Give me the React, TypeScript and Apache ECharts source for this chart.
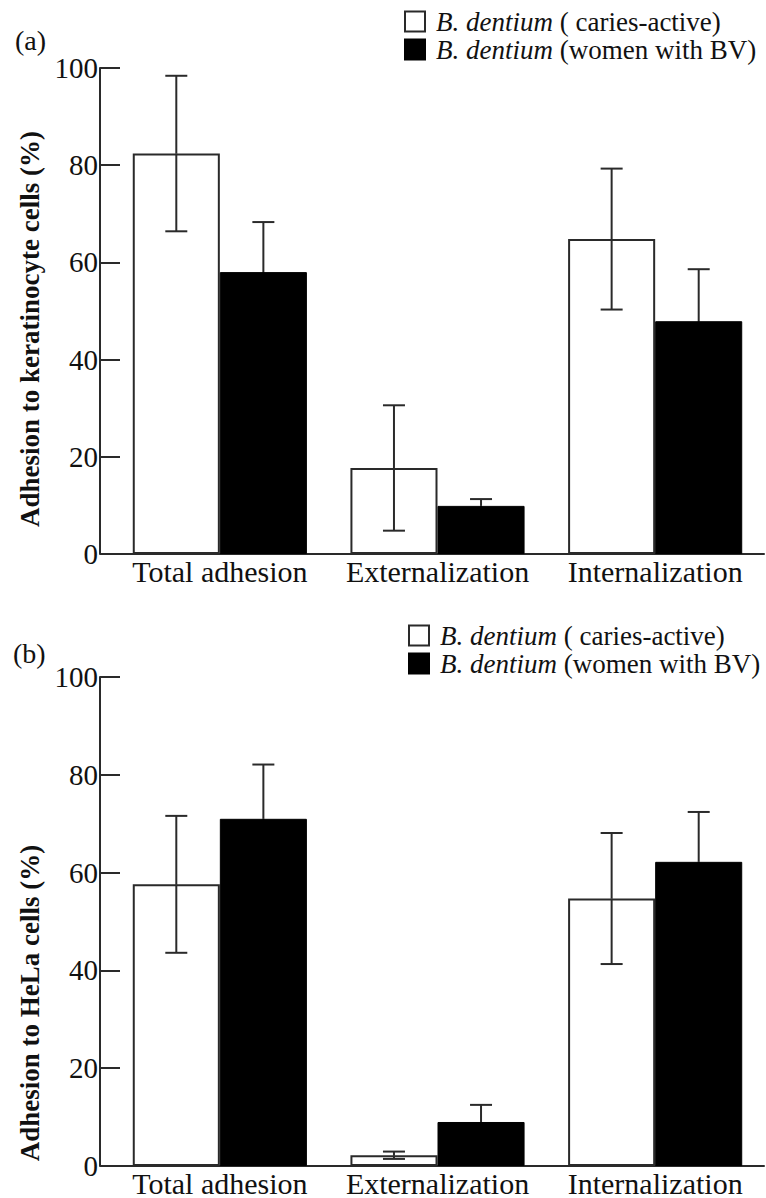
import React, { useEffect, useRef } from "react";
import * as echarts from "echarts";

const categories = ["Total adhesion", "Externalization", "Internalization"];
const seriesNames = ["B. dentium ( caries-active)", "B. dentium (women with BV)"];

// Panel (a): keratinocyte cells
const keratCaries = [82.4, 17.7, 64.8];
const keratCariesErr = [16.0, 12.9, 14.5];
const keratBV = [58.0, 9.9, 47.9];
const keratBVErr = [10.3, 1.4, 10.7];

// Panel (b): HeLa cells
const helaCaries = [57.6, 2.2, 54.7];
const helaCariesErr = [14.0, 0.75, 13.4];
const helaBV = [71.0, 9.0, 62.2];
const helaBVErr = [11.1, 3.5, 10.2];

const yMin = 0;
const yMax = 100;
const yInterval = 20;

const panelLabels = ["(a)", "(b)"];
const yTitles = ["Adhesion to keratinocyte cells (%)", "Adhesion to HeLa cells (%)"];

const FONT = "Liberation Serif";
const INK = "#2a2a2a";

export default function App() {
  const ref = useRef<HTMLDivElement>(null);

  useEffect(() => {
    if (!ref.current) return;
    const chart = echarts.init(ref.current, null, { renderer: "svg" });

    const grids = [
      { left: 111, top: 68, width: 653, height: 486 },
      { left: 111, top: 677, width: 653, height: 489 },
    ];

    const xAxes = grids.map((_, i) => ({
      type: "category",
      gridIndex: i,
      data: categories,
      axisLine: { show: true, lineStyle: { color: INK, width: 2 } },
      axisTick: { show: false },
      axisLabel: { interval: 0, fontFamily: FONT, fontSize: 30, color: "#111", margin: 2 },
    }));

    const yAxes = grids.map((_, i) => ({
      type: "value",
      gridIndex: i,
      min: yMin,
      max: yMax,
      interval: yInterval,
      offset: 11,
      splitLine: { show: false },
      axisLine: { show: true, onZero: false, lineStyle: { color: INK, width: 2 } },
      axisTick: { show: true, inside: true, length: 20, lineStyle: { color: INK, width: 2 } },
      axisLabel: { fontFamily: FONT, fontSize: 29, color: "#111", margin: 2, padding: [6, 0, 0, 0] },
    }));

    const panels = [
      { caries: keratCaries, cariesErr: keratCariesErr, bv: keratBV, bvErr: keratBVErr },
      { caries: helaCaries, cariesErr: helaCariesErr, bv: helaBV, bvErr: helaBVErr },
    ];

    const makeErr = (vals: number[], errs: number[], side: number, idx: number, lowColor: string) => ({
      type: "custom",
      name: "err" + idx + "_" + side,
      xAxisIndex: idx,
      yAxisIndex: idx,
      z: 5,
      data: vals.map((v, k) => [k, v, errs[k]]),
      encode: { x: 0, y: 1 },
      renderItem: (params: any, api: any) => {
        const cat = api.value(0);
        const v = api.value(1);
        const e = api.value(2);
        const band = api.size([1, 0])[0];
        const off = side * band * 0.2;
        const top = api.coord([cat, v + e]);
        const mid = api.coord([cat, v]);
        const bot = api.coord([cat, v - e]);
        const x = top[0] + off;
        const cap = 11;
        const st = { stroke: INK, lineWidth: 2 };
        const stLow = { stroke: lowColor, lineWidth: 2 };
        return {
          type: "group",
          children: [
            { type: "line", shape: { x1: x, y1: top[1], x2: x, y2: mid[1] }, style: st },
            { type: "line", shape: { x1: x, y1: mid[1], x2: x, y2: bot[1] }, style: stLow },
            { type: "line", shape: { x1: x - cap, y1: top[1], x2: x + cap, y2: top[1] }, style: st },
            { type: "line", shape: { x1: x - cap, y1: bot[1], x2: x + cap, y2: bot[1] }, style: stLow },
          ],
        };
      },
    });

    const series: any[] = [];
    panels.forEach((p, i) => {
      series.push({
        type: "bar",
        name: seriesNames[0],
        xAxisIndex: i,
        yAxisIndex: i,
        data: p.caries,
        barGap: "0%",
        barCategoryGap: "20%",
        itemStyle: { color: "#ffffff", borderColor: INK, borderWidth: 2 },
      });
      series.push({
        type: "bar",
        name: seriesNames[1],
        xAxisIndex: i,
        yAxisIndex: i,
        data: p.bv,
        barGap: "0%",
        barCategoryGap: "20%",
        itemStyle: { color: "#000000", borderColor: "#000000", borderWidth: 1 },
      });
      series.push(makeErr(p.caries, p.cariesErr, -1, i, INK));
      series.push(makeErr(p.bv, p.bvErr, 1, i, "#000000"));
    });

    const legendFormatter = (name: string) => {
      const rest = name.replace("B. dentium", "");
      return "{i|B. dentium}" + rest;
    };
    const legendText = {
      fontFamily: FONT,
      fontSize: 27,
      color: "#111",
      padding: [0, 0, 0, 6],
      rich: { i: { fontFamily: FONT, fontSize: 27, fontStyle: "italic", color: "#111" } },
    };
    const legends = [
      { left: 399, top: 3 },
      { left: 403, top: 617 },
    ].map((pos) => ({
      ...pos,
      orient: "vertical",
      data: seriesNames,
      icon: "rect",
      itemWidth: 20,
      itemHeight: 20,
      itemGap: 1,
      selectedMode: false,
      formatter: legendFormatter,
      textStyle: legendText,
    }));

    const graphic: any[] = [
      { type: "line", shape: { x1: 100, y1: 554, x2: 112, y2: 554 }, style: { stroke: INK, lineWidth: 2 } },
      { type: "line", shape: { x1: 100, y1: 1166, x2: 112, y2: 1166 }, style: { stroke: INK, lineWidth: 2 } },
      { type: "text", x: 15, y: 40, style: { text: panelLabels[0], fontFamily: FONT, fontSize: 28, fill: "#111", textVerticalAlign: "middle" } },
      { type: "text", x: 13, y: 653, style: { text: panelLabels[1], fontFamily: FONT, fontSize: 28, fill: "#111", textVerticalAlign: "middle" } },
      {
        type: "text",
        x: 30,
        y: 329,
        rotation: Math.PI / 2,
        style: { text: yTitles[0], fontFamily: FONT, fontSize: 27, fontWeight: "bold", fill: "#111", textAlign: "center", textVerticalAlign: "middle" },
      },
      {
        type: "text",
        x: 30,
        y: 1003,
        rotation: Math.PI / 2,
        style: { text: yTitles[1], fontFamily: FONT, fontSize: 27, fontWeight: "bold", fill: "#111", textAlign: "center", textVerticalAlign: "middle" },
      },
    ];

    chart.setOption({
      animation: false,
      backgroundColor: "#ffffff",
      grid: grids,
      xAxis: xAxes,
      yAxis: yAxes,
      legend: legends,
      series,
      graphic,
    });

    return () => chart.dispose();
  }, []);

  return (
    <div
      ref={ref}
      style={{ position: "fixed", left: 0, top: 0, width: 766, height: 1198, background: "#fff" }}
    />
  );
}
